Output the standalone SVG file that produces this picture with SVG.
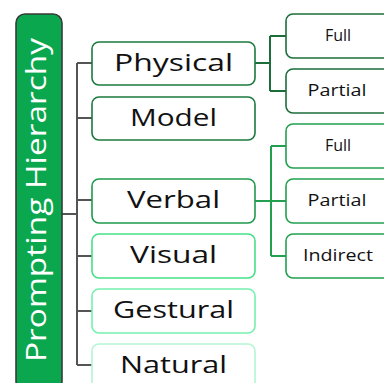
<svg xmlns="http://www.w3.org/2000/svg" width="384" height="383" viewBox="0 0 384 383">
<style>
.n{fill:#fff;stroke-width:1.6}
.l2{font-family:"Open Sans","Liberation Sans",sans-serif;font-size:24px;font-weight:500;fill:#111;text-anchor:middle}
.l3{font-family:"Open Sans","Liberation Sans",sans-serif;font-size:16px;font-weight:500;fill:#111;text-anchor:middle}
.c{fill:none;stroke-width:2}
</style>
<rect width="384" height="383" fill="#fff"/>
<g id="connectors">
<path class="c" stroke="#555" d="M62 214H77M77 63V365M77 63H92M77 118H92M77 200H92M77 256H92M77 311H92M77 365H92"/>
<path class="c" stroke="#1b6e3a" d="M255 63H270M270 36V91M270 36H286M270 91H286"/>
<path class="c" stroke="#22a04f" d="M255 201H271M271 146V256M271 146H286M271 201H286M271 256H286"/>
</g>
<g id="title">
<rect x="16" y="14" width="46" height="376" rx="9" fill="#0ba74f" stroke="#3a3a3a" stroke-width="1.6"/>
<text transform="translate(46,200) rotate(-90)" font-family="'Open Sans','Liberation Sans',sans-serif" font-size="28" fill="#fff" text-anchor="middle" textLength="324" lengthAdjust="spacingAndGlyphs">Prompting Hierarchy</text>
</g>
<g id="physical"><rect class="n" x="92" y="42" width="163" height="43" rx="7" stroke="#1b7a3e"/><text class="l2" x="173.5" y="71" textLength="119" lengthAdjust="spacingAndGlyphs">Physical</text></g>
<g id="model"><rect class="n" x="92" y="97" width="163" height="43" rx="7" stroke="#1b7a3e"/><text class="l2" x="173.5" y="126" textLength="87" lengthAdjust="spacingAndGlyphs">Model</text></g>
<g id="verbal"><rect class="n" x="92" y="179" width="163" height="44" rx="7" stroke="#1f9a4c"/><text class="l2" x="173.5" y="208" textLength="93" lengthAdjust="spacingAndGlyphs">Verbal</text></g>
<g id="visual"><rect class="n" x="92" y="234" width="163" height="44" rx="7" stroke="#45e086"/><text class="l2" x="173.5" y="263" textLength="87" lengthAdjust="spacingAndGlyphs">Visual</text></g>
<g id="gestural"><rect class="n" x="92" y="289" width="163" height="44" rx="7" stroke="#75f0ad"/><text class="l2" x="173.5" y="318" textLength="121" lengthAdjust="spacingAndGlyphs">Gestural</text></g>
<g id="natural"><rect class="n" x="92" y="344" width="163" height="50" rx="7" stroke="#b5f6d3"/><text class="l2" x="173.5" y="373" textLength="107" lengthAdjust="spacingAndGlyphs">Natural</text></g>
<g id="physical-full"><rect class="n" x="286" y="14" width="106" height="44" rx="7" stroke="#1b6e3a"/><text class="l3" x="338" y="41">Full</text></g>
<g id="physical-partial"><rect class="n" x="286" y="69" width="106" height="44" rx="7" stroke="#1b6e3a"/><text class="l3" x="337" y="96" textLength="59" lengthAdjust="spacingAndGlyphs">Partial</text></g>
<g id="verbal-full"><rect class="n" x="286" y="124" width="106" height="44" rx="7" stroke="#22a04f"/><text class="l3" x="338" y="151">Full</text></g>
<g id="verbal-partial"><rect class="n" x="286" y="179" width="106" height="44" rx="7" stroke="#22a04f"/><text class="l3" x="337" y="206" textLength="59" lengthAdjust="spacingAndGlyphs">Partial</text></g>
<g id="verbal-indirect"><rect class="n" x="286" y="234" width="106" height="44" rx="7" stroke="#22a04f"/><text class="l3" x="338" y="261" textLength="70" lengthAdjust="spacingAndGlyphs">Indirect</text></g>
</svg>
